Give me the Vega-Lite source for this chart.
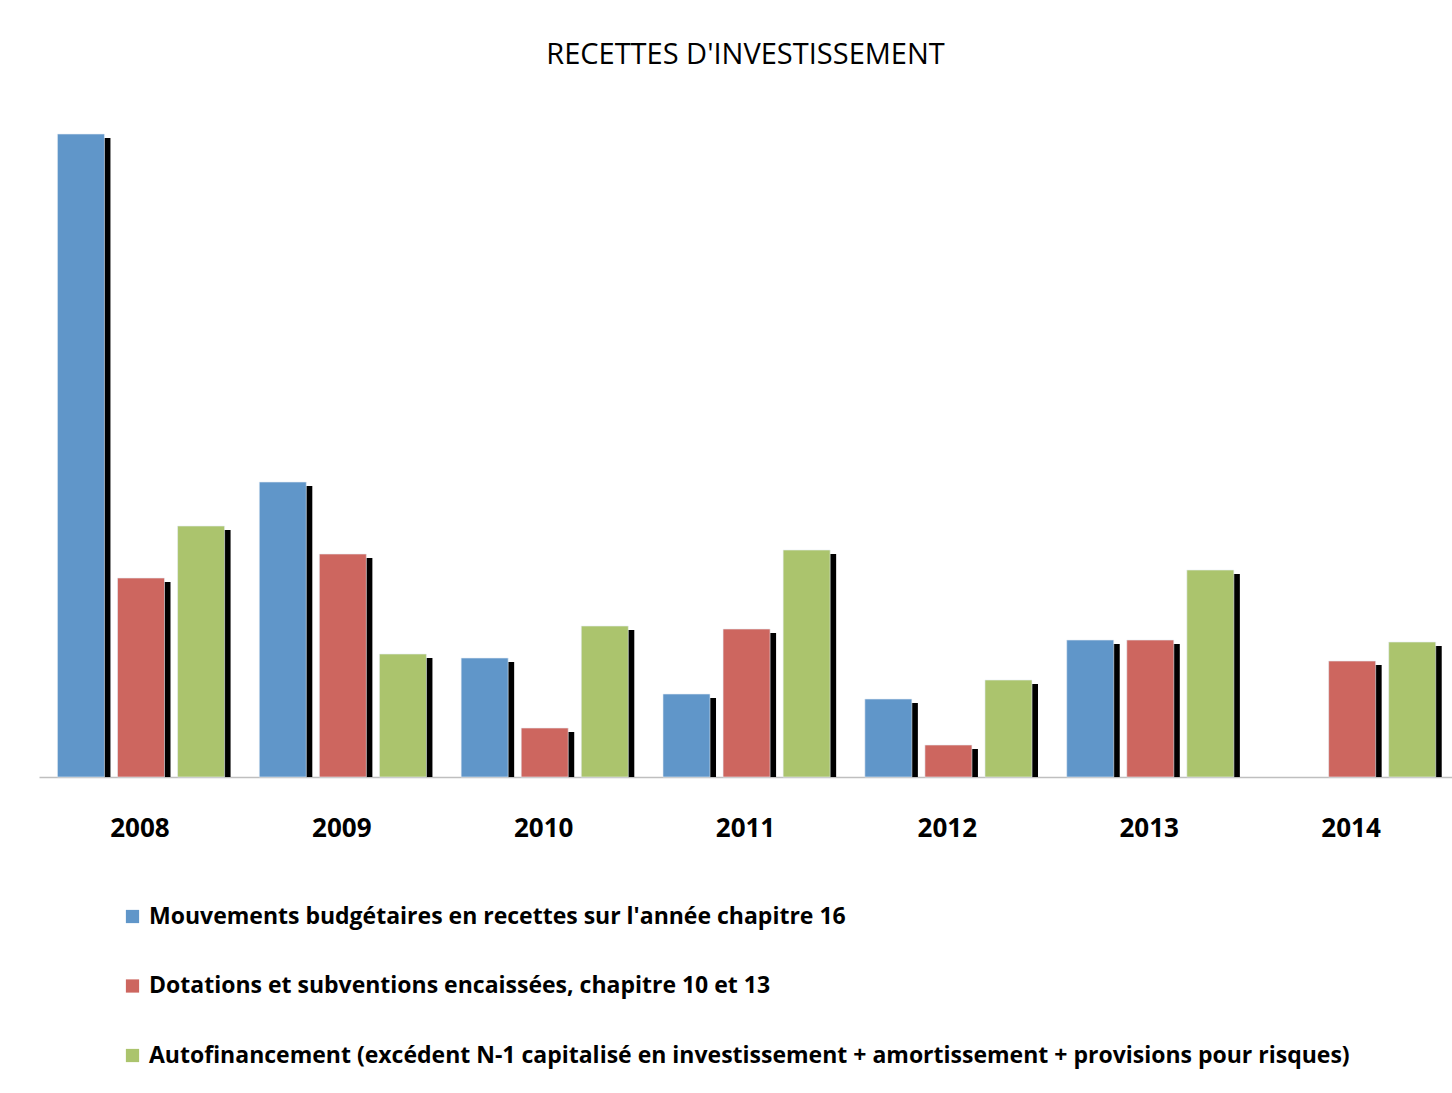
{
  "$schema": "https://vega.github.io/schema/vega-lite/v6.json",
  "width": 1413,
  "height": 677,
  "autosize": {"type": "none"},
  "padding": {"left": 39, "top": 100, "right": 0, "bottom": 316},
  "background": "white",
  "title": {
    "text": "RECETTES D'INVESTISSEMENT",
    "font": "Open Sans",
    "fontSize": 29,
    "fontWeight": "normal",
    "color": "#000000",
    "anchor": "middle",
    "offset": 30
  },
  "data": {
    "values": [
      {"year": "2008", "series": "Mouvements budgétaires en recettes sur l'année chapitre 16", "value": 643},
      {"year": "2008", "series": "Dotations et subventions encaissées, chapitre 10 et 13", "value": 199},
      {"year": "2008", "series": "Autofinancement (excédent N-1 capitalisé en investissement + amortissement + provisions pour risques)", "value": 251},
      {"year": "2009", "series": "Mouvements budgétaires en recettes sur l'année chapitre 16", "value": 295},
      {"year": "2009", "series": "Dotations et subventions encaissées, chapitre 10 et 13", "value": 223},
      {"year": "2009", "series": "Autofinancement (excédent N-1 capitalisé en investissement + amortissement + provisions pour risques)", "value": 123},
      {"year": "2010", "series": "Mouvements budgétaires en recettes sur l'année chapitre 16", "value": 119},
      {"year": "2010", "series": "Dotations et subventions encaissées, chapitre 10 et 13", "value": 49},
      {"year": "2010", "series": "Autofinancement (excédent N-1 capitalisé en investissement + amortissement + provisions pour risques)", "value": 151},
      {"year": "2011", "series": "Mouvements budgétaires en recettes sur l'année chapitre 16", "value": 83},
      {"year": "2011", "series": "Dotations et subventions encaissées, chapitre 10 et 13", "value": 148},
      {"year": "2011", "series": "Autofinancement (excédent N-1 capitalisé en investissement + amortissement + provisions pour risques)", "value": 227},
      {"year": "2012", "series": "Mouvements budgétaires en recettes sur l'année chapitre 16", "value": 78},
      {"year": "2012", "series": "Dotations et subventions encaissées, chapitre 10 et 13", "value": 32},
      {"year": "2012", "series": "Autofinancement (excédent N-1 capitalisé en investissement + amortissement + provisions pour risques)", "value": 97},
      {"year": "2013", "series": "Mouvements budgétaires en recettes sur l'année chapitre 16", "value": 137},
      {"year": "2013", "series": "Dotations et subventions encaissées, chapitre 10 et 13", "value": 137},
      {"year": "2013", "series": "Autofinancement (excédent N-1 capitalisé en investissement + amortissement + provisions pour risques)", "value": 207},
      {"year": "2014", "series": "Dotations et subventions encaissées, chapitre 10 et 13", "value": 116},
      {"year": "2014", "series": "Autofinancement (excédent N-1 capitalisé en investissement + amortissement + provisions pour risques)", "value": 135}
    ]
  },
  "encoding": {
    "x": {
      "field": "year",
      "type": "nominal",
      "scale": {"paddingInner": 0, "paddingOuter": 0},
      "axis": {
        "title": null,
        "labelAngle": 0,
        "labelFont": "Open Sans",
        "labelFontSize": 26,
        "labelFontWeight": "bold",
        "labelColor": "#000000",
        "labelPadding": 38,
        "ticks": false,
        "domainColor": "#bfbfbf",
        "domainWidth": 1.5,
        "grid": false
      }
    },
    "y": {
      "field": "value",
      "type": "quantitative",
      "scale": {"domain": [0, 677], "nice": false},
      "axis": null
    }
  },
  "layer": [
    {
      "mark": {"type": "bar", "color": "#000000", "yOffset": 4, "clip": true},
      "encoding": {
        "xOffset": {
          "field": "series",
          "type": "nominal",
          "scale": {
            "domain": [
              "Mouvements budgétaires en recettes sur l'année chapitre 16",
              "Dotations et subventions encaissées, chapitre 10 et 13",
              "Autofinancement (excédent N-1 capitalisé en investissement + amortissement + provisions pour risques)"
            ],
            "range": [7, 209],
            "paddingInner": 0.217,
            "paddingOuter": 0.29
          }
        }
      }
    },
    {
      "mark": {"type": "bar", "stroke": "#e8eef5", "strokeWidth": 1, "strokeOpacity": 0.6},
      "encoding": {
        "xOffset": {
          "field": "series",
          "type": "nominal",
          "scale": {
            "domain": [
              "Mouvements budgétaires en recettes sur l'année chapitre 16",
              "Dotations et subventions encaissées, chapitre 10 et 13",
              "Autofinancement (excédent N-1 capitalisé en investissement + amortissement + provisions pour risques)"
            ],
            "range": [1, 203],
            "paddingInner": 0.217,
            "paddingOuter": 0.29
          }
        },
        "color": {
          "field": "series",
          "type": "nominal",
          "scale": {
            "domain": [
              "Mouvements budgétaires en recettes sur l'année chapitre 16",
              "Dotations et subventions encaissées, chapitre 10 et 13",
              "Autofinancement (excédent N-1 capitalisé en investissement + amortissement + provisions pour risques)"
            ],
            "range": ["#6096c9", "#cd665f", "#abc46d"]
          },
          "legend": {
            "title": null,
            "orient": "none",
            "legendX": 82,
            "legendY": 805,
            "direction": "vertical",
            "symbolType": "square",
            "symbolSize": 175,
            "symbolStrokeWidth": 0,
            "labelFont": "Open Sans",
            "labelFontSize": 23,
            "labelFontWeight": "bold",
            "labelColor": "#000000",
            "labelLimit": 1400,
            "rowPadding": 45.5,
            "labelOffset": 5
          }
        }
      }
    }
  ],
  "resolve": {"scale": {"xOffset": "independent"}},
  "config": {"view": {"stroke": null}}
}
